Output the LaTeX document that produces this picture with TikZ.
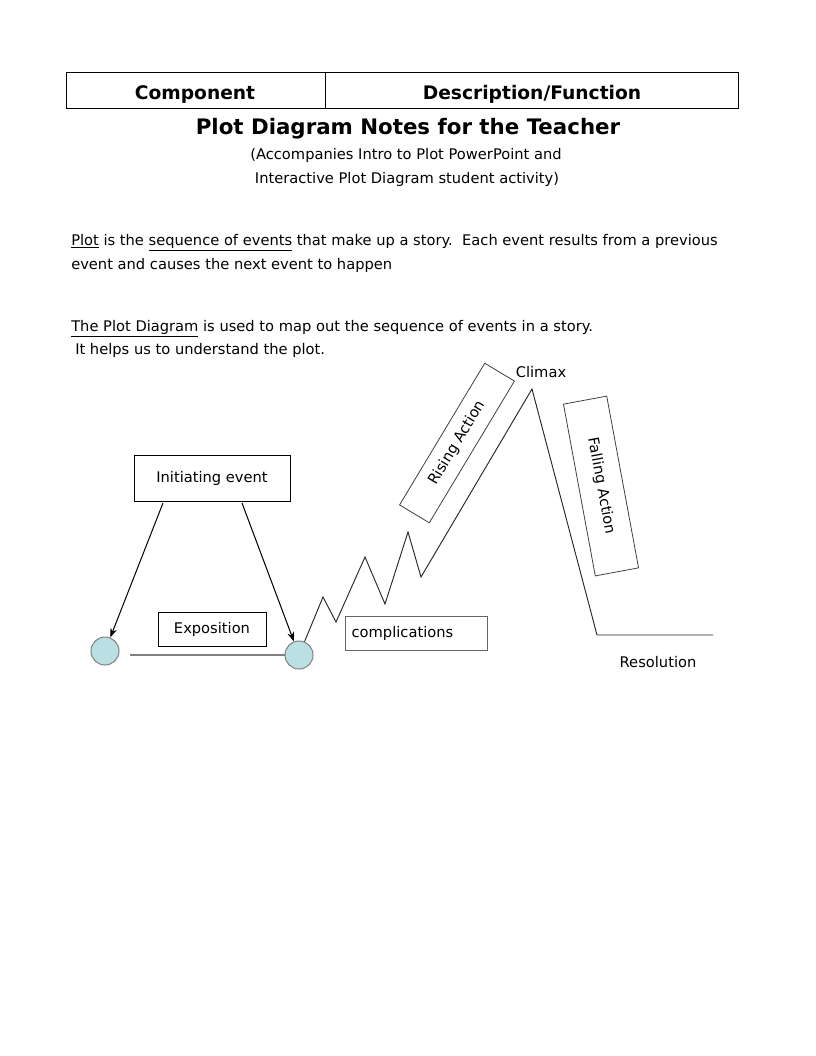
\documentclass[tikz,border=0pt]{standalone}
\usepackage{fontspec}
\setmainfont{DejaVu Sans}
\usepackage{tikz}
\usetikzlibrary{arrows.meta}
\definecolor{eventfill}{RGB}{186,224,228}

\begin{document}
\begin{tikzpicture}[x=0.75pt,y=-0.75pt,>={Stealth[length=7pt,width=5pt]},
  font=\fontsize{11}{13}\selectfont,
  txt/.style={inner sep=0pt,anchor=base},
  hdr/.style={txt,font=\fontsize{14}{16}\selectfont\bfseries},
  framebox/.style={draw,line width=0.75pt,inner sep=0pt},
  tiltbox/.style={draw=black!75,line width=0.6pt,inner sep=0pt},
  event/.style={circle,draw=gray,fill=eventfill,line width=0.75pt,minimum size=21pt,inner sep=0pt},
  storyline/.style={black!85,line width=0.7pt}]
  \useasboundingbox (0,0) rectangle (816,1056);
  % ---------------- header table and title
  \draw[line width=0.75pt] (66,73) rectangle (738,108);
  \draw[line width=0.75pt] (325,73) -- (325,108);
  \node[hdr] (comp) at (195,99) {Component};
  \node[hdr] (desc) at (532,99) {Description/Function};
  \node[hdr,font=\fontsize{16}{18}\selectfont\bfseries] (title) at (408,134) {Plot Diagram Notes for the Teacher};
  \node[txt] (sub1) at (406,159) {(Accompanies Intro to Plot PowerPoint and};
  \node[txt] (sub2) at (407,183) {Interactive Plot Diagram student activity)};
  % ---------------- notes
  \node[txt,anchor=base west] (intro1) at (71,245)
    {\underline{Plot} is the \underline{sequence of events} that make up a story.\ \ Each event results from a previous};
  \node[txt,anchor=base west] (intro2) at (71,269) {event and causes the next event to happen};
  \node[txt,anchor=base west] (diag1) at (71,331)
    {\underline{The Plot Diagram} is used to map out the sequence of events in a story.};
  \node[txt,anchor=base west] (diag2) at (75,354) {It helps us to understand the plot.};
  % ---------------- the plot diagram
  \node[framebox,minimum width=117pt,minimum height=35pt] (init) at (212,478.5) {Initiating event};
  \node[framebox,minimum width=81pt,minimum height=26pt] (expo) at (212,629.5) {Exposition};
  \node[framebox,draw=black!60,text width=96.5pt,inner xsep=5pt,minimum height=26pt,align=left]
    (compl) at (416,633.5) {complications};
  \node[tiltbox,rotate=59,minimum width=124pt,minimum height=26pt] (rising) at (457,443) {Rising Action};
  \node[tiltbox,rotate=-79.5,minimum width=131pt,minimum height=33pt] (falling) at (601,486) {Falling Action};
  \node[txt] (climax) at (541,377) {Climax};
  \node[txt] (resolution) at (658,667) {Resolution};
  \node[event] (start) at (105,651) {};
  \node[event] (c2) at (299,655) {};
  \coordinate (expstart) at (130,655);
  \coordinate (peak) at (532,389);
  \coordinate (low) at (597,635);
  \coordinate (finish) at (713,635);
  \draw[gray,line width=1.5pt] (expstart) -- (c2);
  \draw[->,line width=0.75pt] (163,503) -- (start);
  \draw[->,line width=0.75pt] (242,503) -- (c2);
  \draw[storyline] (c2) -- (323,597) -- (336,622) -- (365,557) -- (385,604)
    -- (408,532) -- (421,577) -- (peak) -- (low) -- (finish);
\end{tikzpicture}
\end{document}
